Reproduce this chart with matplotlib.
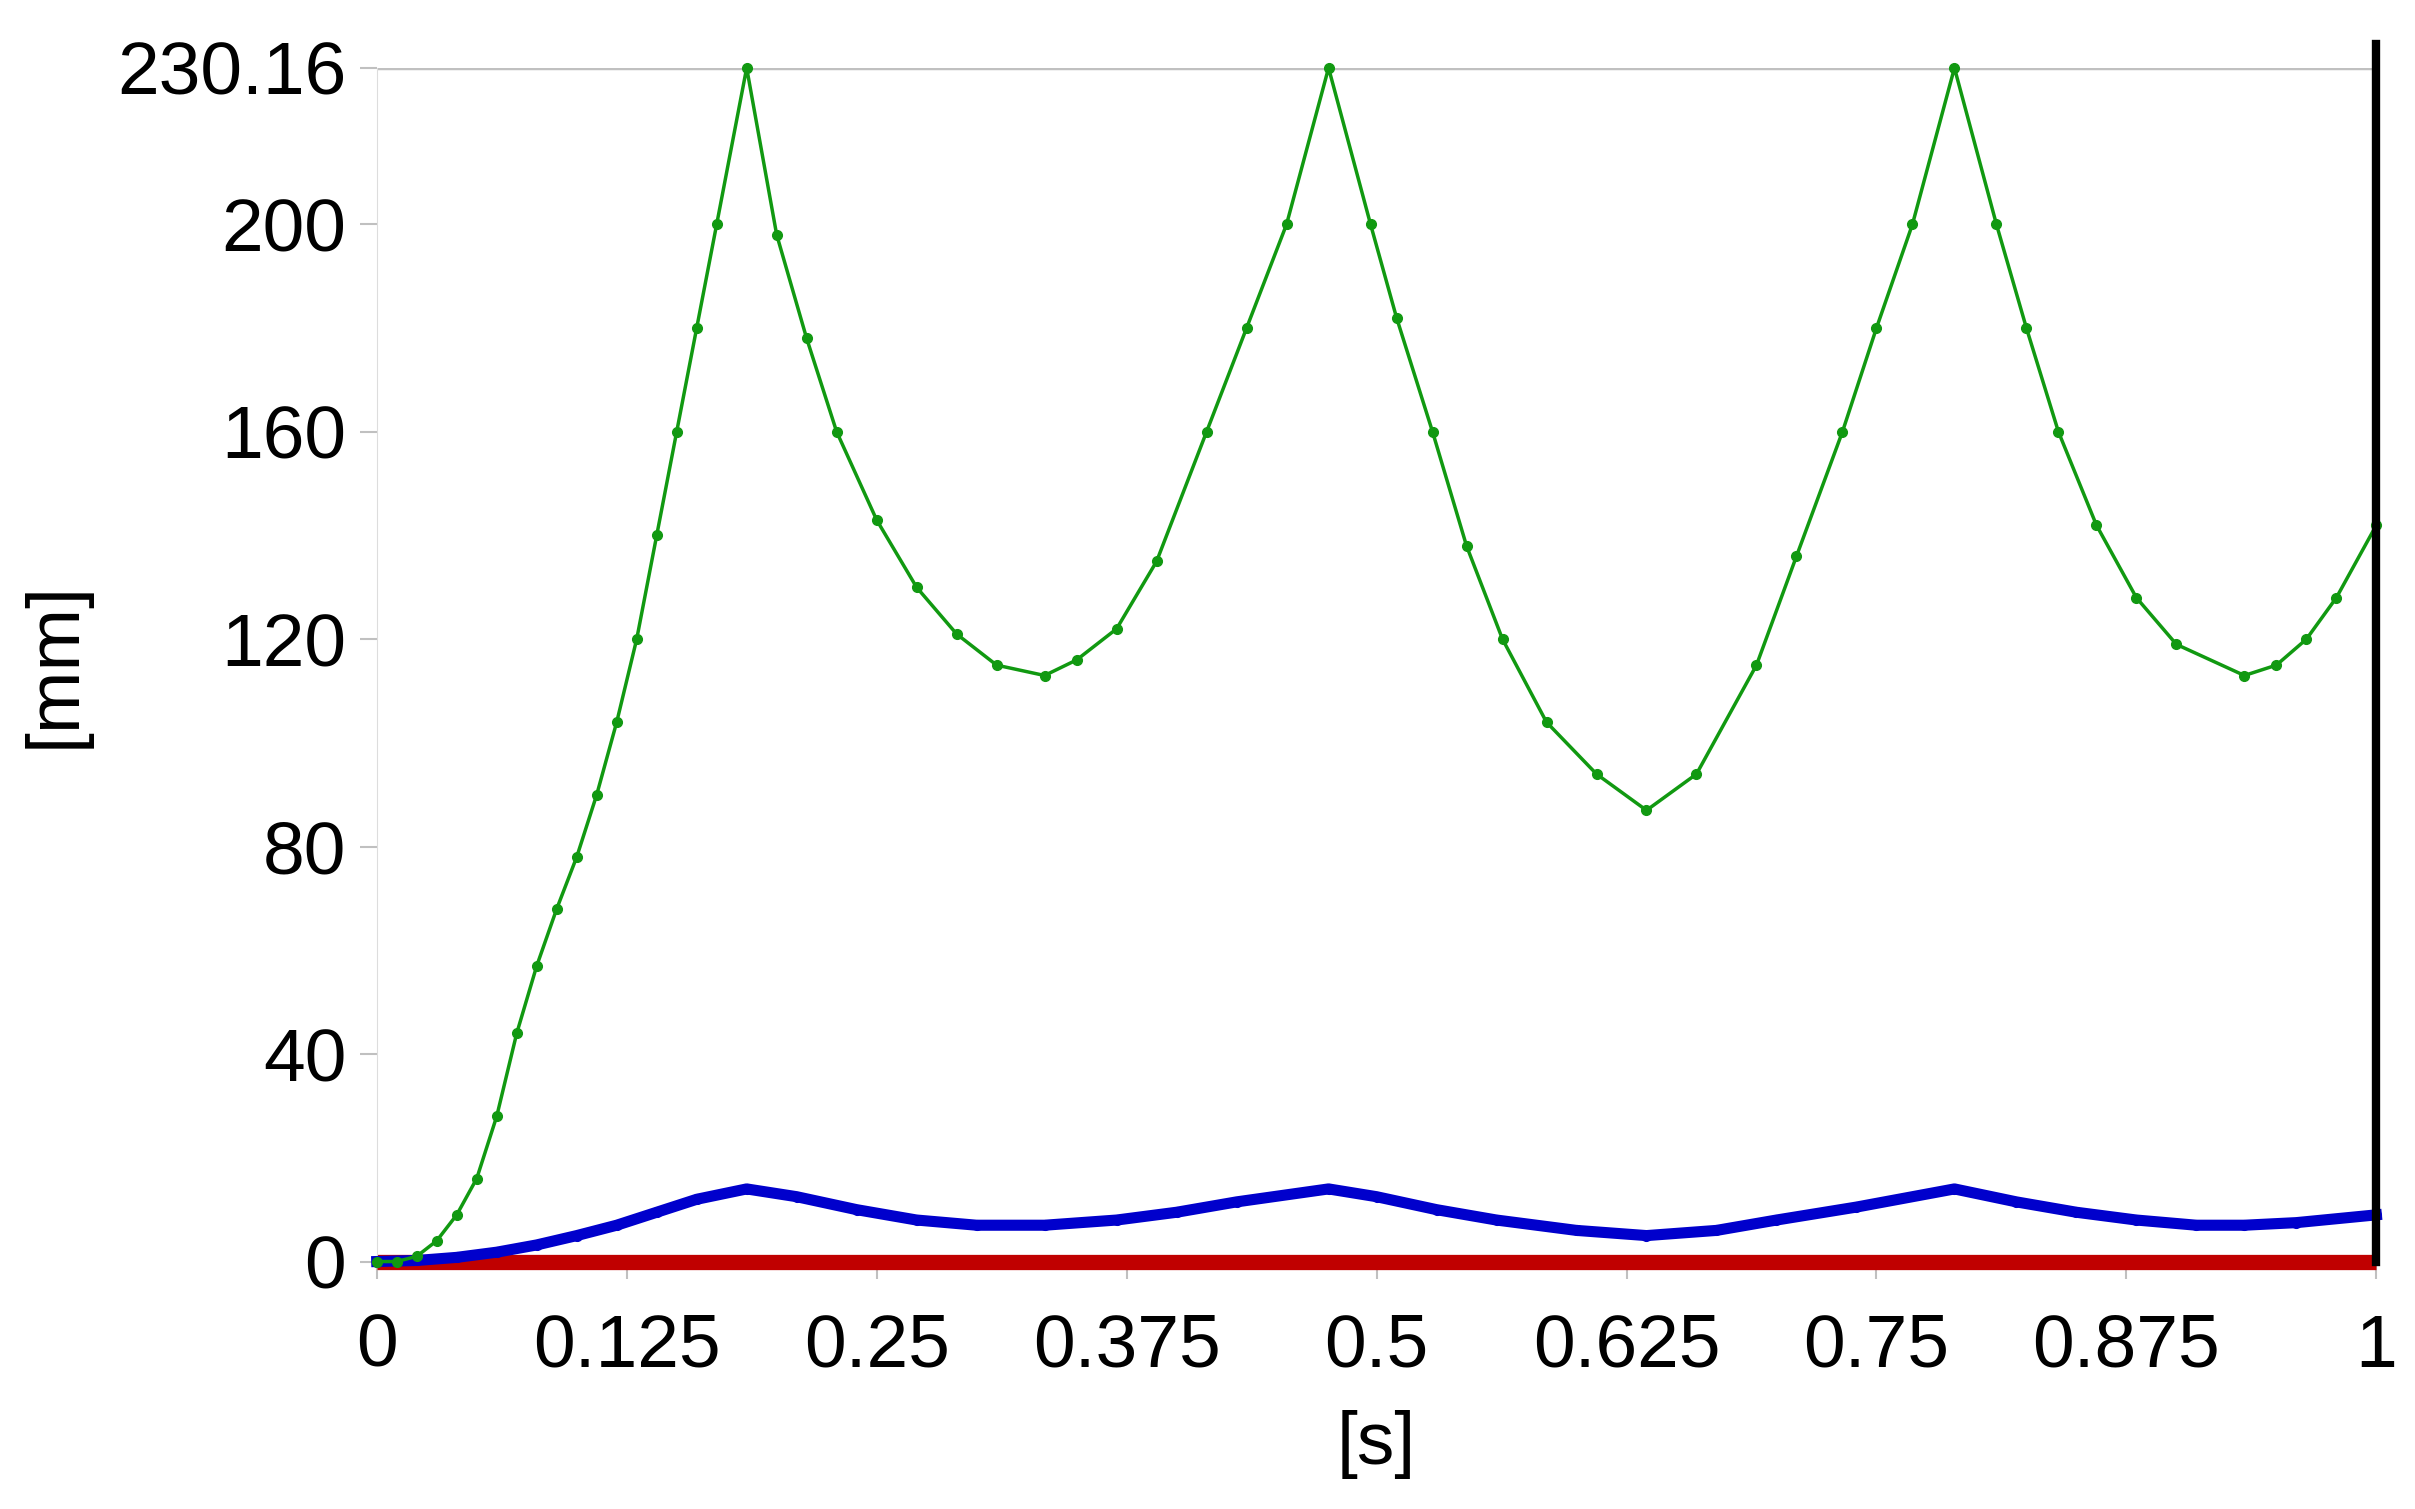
import matplotlib
matplotlib.use("Agg")
import matplotlib.pyplot as plt

t_green = [0, 0.01, 0.02, 0.03, 0.04, 0.05, 0.06, 0.07, 0.08, 0.09, 0.10, 0.11, 0.12, 0.13, 0.14, 0.15, 0.16, 0.17, 0.185,
           0.20, 0.215, 0.23, 0.25, 0.27, 0.29, 0.31, 0.334, 0.35, 0.37, 0.39, 0.415, 0.435, 0.455, 0.476,
           0.497, 0.51, 0.528, 0.545, 0.563, 0.585, 0.61, 0.635, 0.66, 0.69, 0.71, 0.733, 0.75, 0.768, 0.789,
           0.81, 0.825, 0.841, 0.86, 0.88, 0.90, 0.934, 0.95, 0.965, 0.98, 1.0]
green = [0, 0, 1, 4, 9, 16, 28, 44, 57, 68, 78, 90, 104, 120, 140, 160, 180, 200, 230.16,
         198, 178, 160, 143, 130, 121, 115, 113, 116, 122, 135, 160, 180, 200, 230.16,
         200, 182, 160, 138, 120, 104, 94, 87, 94, 115, 136, 160, 180, 200, 230.16,
         200, 180, 160, 142, 128, 119, 113, 115, 120, 128, 142]

t_blue = [0, 0.02, 0.04, 0.06, 0.08, 0.10, 0.12, 0.14, 0.16, 0.185, 0.21, 0.24, 0.27, 0.30, 0.334, 0.37, 0.40,
          0.43, 0.476, 0.50, 0.53, 0.56, 0.60, 0.635, 0.67, 0.70, 0.74, 0.789, 0.82, 0.85, 0.88, 0.91, 0.934, 0.96, 1.0]
blue = [0, 0.2, 0.8, 1.8, 3.2, 5, 7, 9.5, 12, 14, 12.5, 10, 8, 7, 7, 8, 9.5, 11.5, 14, 12.5, 10, 8, 6, 5, 6, 8,
        10.5, 14, 11.5, 9.5, 8, 7, 7, 7.5, 9]

t_red = [0, 1.0]
red = [0, 0]

xticks = [0, 0.125, 0.25, 0.375, 0.5, 0.625, 0.75, 0.875, 1]
xlabels = ["0", "0.125", "0.25", "0.375", "0.5", "0.625", "0.75", "0.875", "1"]
yticks = [0, 40, 80, 120, 160, 200, 230.16]
ylabels = ["0", "40", "80", "120", "160", "200", "230.16"]

plt.rcParams['font.family'] = ['Liberation Sans', 'DejaVu Sans']
fig = plt.figure(figsize=(24.15, 15.09), dpi=100)
ax = fig.add_axes([0.156, 0.164, 0.828, 0.791])

ax.plot(t_red, red, color="#c00000", lw=11, zorder=2, solid_capstyle='butt', clip_on=False)
ax.plot(t_blue, blue, color="#0000cc", lw=8, marker='o', ms=7, zorder=3, clip_on=False)
ax.plot(t_green, green, color="#119911", lw=2.5, marker='o', ms=7, zorder=4, clip_on=False)
ax.axhline(230.16, color="#c0c0c0", lw=2.5, zorder=1)
ax.axvline(1.0, color="black", lw=6, zorder=5, ymax=1.02, clip_on=False)

ax.set_xlim(0, 1)
ax.set_ylim(0, 230.16)
ax.set_xticks(xticks)
ax.set_xticklabels(xlabels)
ax.set_yticks(yticks)
ax.set_yticklabels(ylabels)
ax.tick_params(axis='both', labelsize=54, color="#c0c0c0", length=12, width=1.5, pad=10)
ax.tick_params(axis='x', pad=25)
for s in ['top', 'right', 'bottom']:
    ax.spines[s].set_visible(False)
ax.spines['left'].set_color("#dddddd")
ax.set_xlabel("[s]", fontsize=54, labelpad=20)
ax.set_ylabel("[mm]", fontsize=54, labelpad=20)

fig.savefig("out.png", dpi=100, facecolor="white")
